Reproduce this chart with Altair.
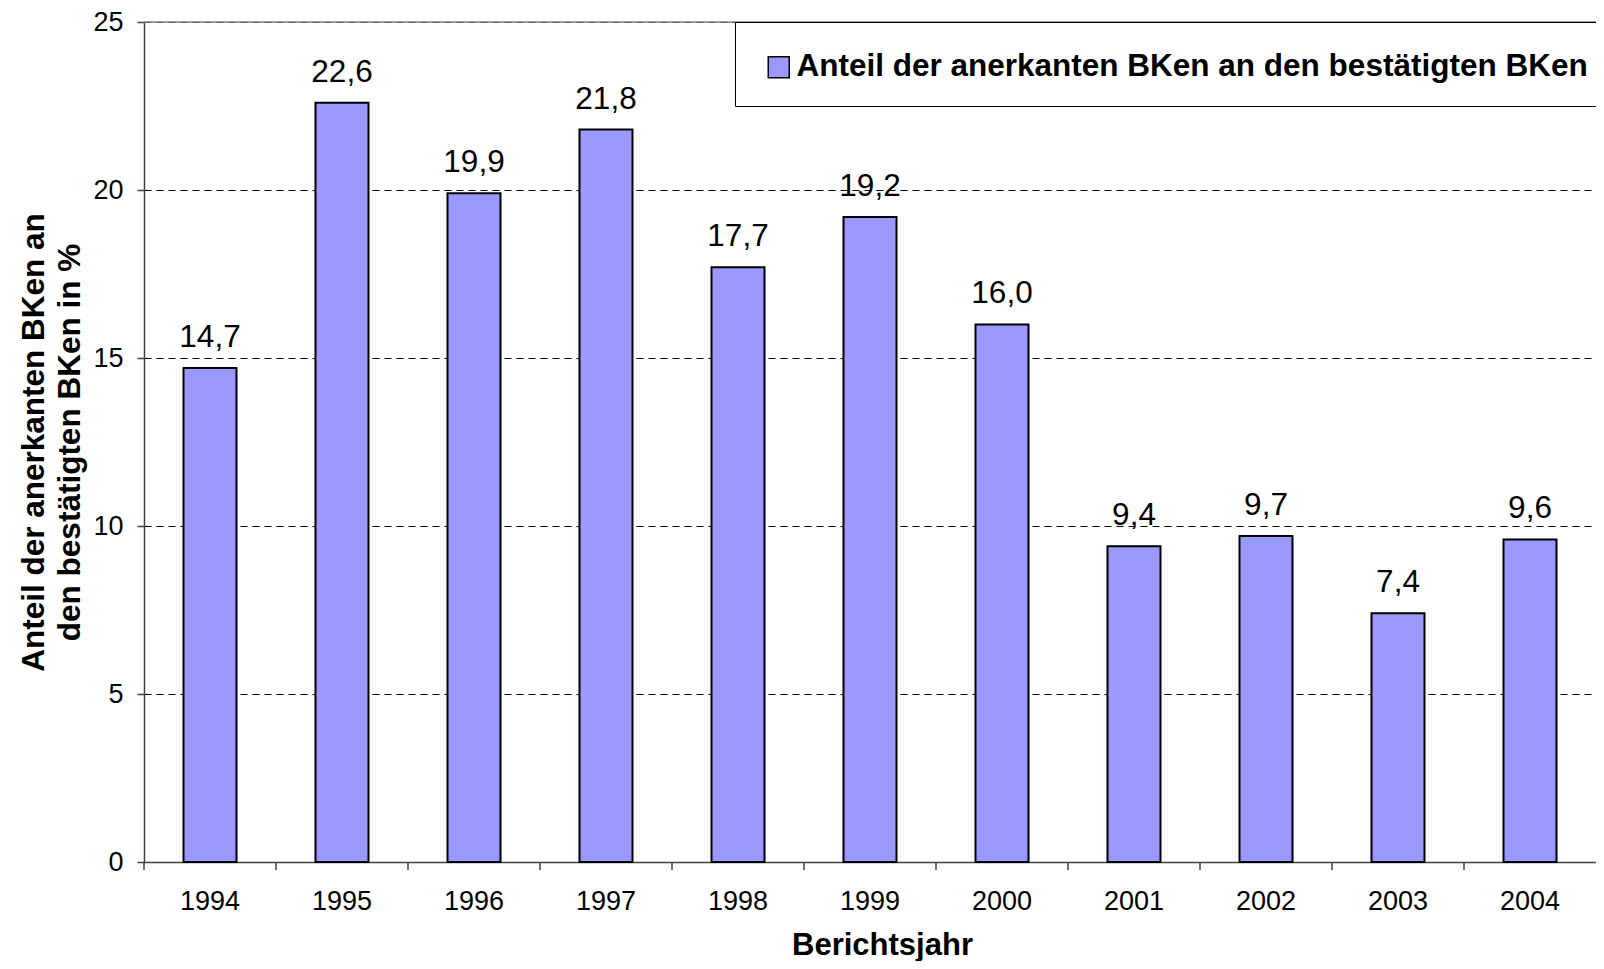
import altair as alt
import pandas as pd

years = ["1994", "1995", "1996", "1997", "1998", "1999", "2000", "2001", "2002", "2003", "2004"]
values = [14.7, 22.6, 19.9, 21.8, 17.7, 19.2, 16.0, 9.4, 9.7, 7.4, 9.6]
labels = [f"{v:.1f}".replace(".", ",") for v in values]
series_name = "Anteil der anerkanten BKen an den bestätigten BKen"
y_ticks = [0, 5, 10, 15, 20, 25]
y_title = ["Anteil der anerkanten BKen an", "den bestätigten BKen in %"]
x_title = "Berichtsjahr"

df = pd.DataFrame({"year": years, "value": values, "label": labels, "series": series_name})
top_df = pd.DataFrame({"v": [25]})

W, H = 1452, 840
FONT = "Liberation Sans"
AXIS_COL = "#404040"

x_scale = alt.Scale(domain=years, paddingInner=0, paddingOuter=0)
y_scale = alt.Scale(domain=[0, 25], nice=False, zero=True)

base = alt.Chart(df)

bars = base.mark_bar(width=53, stroke="black", strokeWidth=2).encode(
    x=alt.X("year:N", scale=x_scale, sort=years,
            axis=alt.Axis(title=x_title, labelAngle=0, ticks=False, labelPadding=26,
                          labelFontSize=27, labelFont=FONT, labelColor="black",
                          domainColor=AXIS_COL, domainWidth=1.5,
                          titleFont=FONT, titleFontSize=31, titleFontWeight="bold",
                          titleColor="black", titleX=738, titleY=68, titleAlign="center",
                          titleBaseline="top")),
    y=alt.Y("value:Q", scale=y_scale,
            axis=alt.Axis(values=y_ticks, title=y_title, grid=True, gridDash=[7, 5],
                          gridColor="black", gridWidth=1, tickSize=7, tickColor=AXIS_COL,
                          tickWidth=1.5, domainColor=AXIS_COL, domainWidth=1.5,
                          labelPadding=14, labelFontSize=27, labelFont=FONT, labelColor="black",
                          titleFont=FONT, titleFontSize=31.5, titleFontWeight="bold",
                          titleColor="black", titleAngle=-90, titleX=-126, titleY=H / 2,
                          titleAlign="center", titleBaseline="top", titleLineHeight=36)),
    color=alt.Color("series:N", scale=alt.Scale(range=["#9999FF"]),
                    legend=alt.Legend(orient="none", legendX=591, legendY=0,
                                      title=" ", titleFontSize=1, titlePadding=6,
                                      strokeColor="black", fillColor="white", padding=22.5,
                                      symbolType="square", symbolSize=441, symbolOffset=5.5,
                                      symbolStrokeColor="black", symbolStrokeWidth=1.5,
                                      symbolOpacity=1,
                                      labelFont=FONT, labelFontSize=31.5, labelFontWeight="bold",
                                      labelColor="black", labelLimit=0, labelOffset=2)),
)

xticks = base.mark_rule(color=AXIS_COL, strokeWidth=1.5).encode(
    x=alt.X("year:N", bandPosition=0, scale=x_scale, sort=years),
    y=alt.value(H),
    y2=alt.value(H + 8),
)

text = base.mark_text(font=FONT, fontSize=31.5, dy=-21, baseline="alphabetic", color="black").encode(
    x=alt.X("year:N", scale=x_scale, sort=years),
    y=alt.Y("value:Q", scale=y_scale),
    text="label:N",
)

top = alt.Chart(top_df).mark_rule(color="#808080", strokeWidth=1.5).encode(
    y=alt.Y("v:Q", scale=y_scale),
    x=alt.value(0),
    x2=alt.value(W),
)

chart = alt.layer(bars, xticks, text, top).properties(
    width=W, height=H,
    padding={"left": 136, "top": 14, "right": 0, "bottom": 99},
    autosize=alt.AutoSizeParams(type="none"),
).configure_view(strokeWidth=0)

chart.save("out.html", embed_options={"renderer": "svg", "actions": False})
